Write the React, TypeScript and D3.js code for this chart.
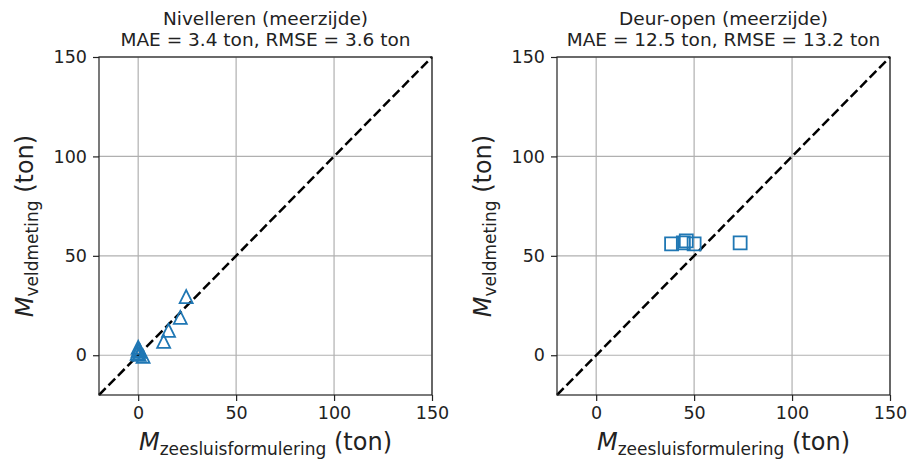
import React, { useEffect, useRef } from 'react';
import * as d3 from 'd3';

// values
const nivX = [0, 0, -0.5, 0.5, 1, 2.5, 13, 15.5, 21.5, 24.5];
const nivY = [4, 2.5, 1, 0.5, 2, -0.5, 7, 12.5, 19, 29.5];
const deurX = [38.5, 44.5, 46, 50, 73.5];
const deurY = [56, 56.5, 57.5, 56, 56.5];
const tickValues = [0, 50, 100, 150];
const titles = [
  ['Nivelleren (meerzijde)', 'MAE = 3.4 ton, RMSE = 3.6 ton'],
  ['Deur-open (meerzijde)', 'MAE = 12.5 ton, RMSE = 13.2 ton'],
];

const width = 913;
const height = 461;
const blue = '#1f77b4';
const font = 'DejaVu Sans, sans-serif';

const App = () => {
  const ref = useRef<SVGSVGElement>(null);

  useEffect(() => {
    const svg = d3.select(ref.current);
    svg.selectAll('*').remove();

    const panels = [
      { left: 99, xs: nivX, ys: nivY, marker: 'tri' },
      { left: 557, xs: deurX, ys: deurY, marker: 'sq' },
    ];
    const top = 57;
    const bottom = 395;
    const w = 333;

    panels.forEach((p, k) => {
      const x = d3.scaleLinear().domain([-20, 150]).range([p.left, p.left + w]);
      const y = d3.scaleLinear().domain([-20, 150]).range([bottom, top]);
      const g = svg.append('g');

      // grid
      g.selectAll('.gx')
        .data(tickValues)
        .enter()
        .append('line')
        .attr('x1', (d) => x(d))
        .attr('x2', (d) => x(d))
        .attr('y1', top)
        .attr('y2', bottom)
        .attr('stroke', '#b0b0b0')
        .attr('stroke-width', 1.2);
      g.selectAll('.gy')
        .data(tickValues)
        .enter()
        .append('line')
        .attr('y1', (d) => y(d))
        .attr('y2', (d) => y(d))
        .attr('x1', p.left)
        .attr('x2', p.left + w)
        .attr('stroke', '#b0b0b0')
        .attr('stroke-width', 1.2);

      // diagonal y = x
      g.append('line')
        .attr('x1', x(-20))
        .attr('y1', y(-20))
        .attr('x2', x(150))
        .attr('y2', y(150))
        .attr('stroke', 'black')
        .attr('stroke-width', 2.5)
        .attr('stroke-dasharray', '9.5,4');

      // markers
      const pts = p.xs.map((v, i) => [v, p.ys[i]]);
      const h = 6.5;
      g.selectAll('.pt')
        .data(pts)
        .enter()
        .append('path')
        .attr('d', p.marker === 'tri'
          ? `M0,${-h}L${-h},${h}L${h},${h}Z`
          : `M${-h},${-h}H${h}V${h}H${-h}Z`)
        .attr('transform', (d) => `translate(${x(d[0])},${y(d[1])})`)
        .attr('fill', 'none')
        .attr('stroke', blue)
        .attr('stroke-width', 1.8);

      // axes
      const xAxis = g.append('g')
        .attr('transform', `translate(0,${bottom})`)
        .call(d3.axisBottom(x).tickValues(tickValues).tickSize(6).tickPadding(6));
      const yAxis = g.append('g')
        .attr('transform', `translate(${p.left},0)`)
        .call(d3.axisLeft(y).tickValues(tickValues).tickSize(6).tickPadding(6));
      [xAxis, yAxis].forEach((a) => {
        a.select('.domain').remove();
        a.selectAll('line').attr('stroke', '#222').attr('stroke-width', 1.2);
        a.selectAll('text')
          .attr('font-family', font)
          .attr('font-size', 17.5)
          .attr('fill', '#222');
      });

      // frame
      g.append('rect')
        .attr('x', p.left)
        .attr('y', top)
        .attr('width', w)
        .attr('height', bottom - top)
        .attr('fill', 'none')
        .attr('stroke', '#222')
        .attr('stroke-width', 1.2);

      // titles
      const cx = p.left + w / 2;
      titles[k].forEach((t, i) => {
        g.append('text')
          .attr('x', cx)
          .attr('y', 25 + i * 21)
          .attr('text-anchor', 'middle')
          .attr('font-family', font)
          .attr('font-size', 18.5)
          .attr('fill', '#222')
          .text(t);
      });

      // x label
      const xl = g.append('text')
        .attr('x', cx)
        .attr('y', 450)
        .attr('text-anchor', 'middle')
        .attr('font-family', font)
        .attr('font-size', 24)
        .attr('fill', '#222');
      xl.append('tspan').attr('font-style', 'italic').text('M');
      xl.append('tspan').attr('font-size', 17).attr('dy', 5).text('zeesluisformulering');
      xl.append('tspan').attr('dy', -5).text('\u00a0(ton)');

      // y label
      const yl = g.append('text')
        .attr('transform', `translate(${p.left - 66},${(top + bottom) / 2}) rotate(-90)`)
        .attr('text-anchor', 'middle')
        .attr('font-family', font)
        .attr('font-size', 24)
        .attr('fill', '#222');
      yl.append('tspan').attr('font-style', 'italic').text('M');
      yl.append('tspan').attr('font-size', 17).attr('dy', 5).text('veldmeting');
      yl.append('tspan').attr('dy', -5).text('\u00a0(ton)');
    });
  }, []);

  return (
    <svg
      ref={ref}
      width={width}
      height={height}
      style={{ position: 'absolute', left: 0, top: 0, background: 'white' }}
    />
  );
};

export default App;
